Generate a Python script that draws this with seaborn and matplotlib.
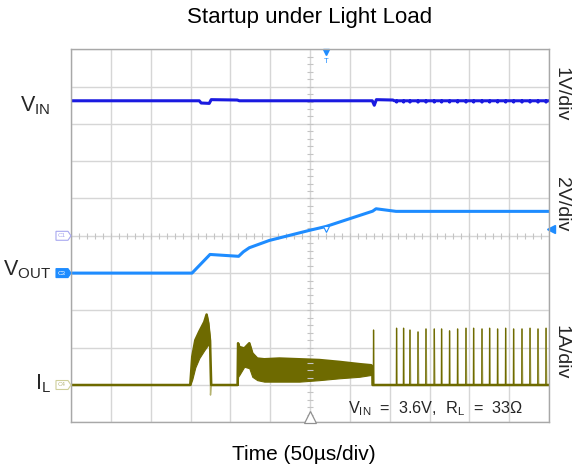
import numpy as np
import pandas as pd
import matplotlib
matplotlib.use("Agg")
import matplotlib.pyplot as plt
from matplotlib.patches import Polygon
import seaborn as sns

# ---------------- data (time in µs, 50 µs/div) ----------------
# V_IN trace (volts, 1 V/div, ground at centre line)
vin_t = [-300, -139.0, -136.6, -126.5, -124.0, -91.3, -88.7, 78.2, 80.7, 83.3, 104.0, 106.0, 300]
vin_v = [3.62, 3.62, 3.56, 3.55, 3.65, 3.64, 3.62, 3.62, 3.50, 3.65, 3.64, 3.62, 3.62]
vin_dip = 3.585

# V_OUT trace (volts, 2 V/div, ground one division below centre)
vout_t = [-300, -148.1, -125.5, -89.6, -83.7, -76.2, -51.1, -26.0, -0.9, 20.1, 49.3, 78.6, 82.9, 108.0, 300]
vout_v = [0.0, 0.0, 1.00, 0.90, 1.14, 1.36, 1.75, 2.02, 2.29, 2.50, 2.91, 3.32, 3.45, 3.31, 3.31]

# I_L trace (amps, 1 A/div, ground four divisions below centre)
burst1_t = [-150.3, -147.8, -144.0, -139.0, -132.7, -129.8, -127.7, -125.5]
burst1_hi = [0.0, 0.76, 1.20, 1.43, 1.69, 1.89, 1.66, 1.20]
burst1_lo = [0.0, 0.15, 0.47, 0.72, 0.93, 1.02, 1.08, 1.05]
burst2_t = [-90.9, -90.3, -88.7, -82.5, -76.2, -72.4, -66.2, -57.4, -38.5, -13.4, 11.7, 36.8, 61.9, 76.9, 78.2]
burst2_hi = [0.0, 1.12, 1.02, 0.98, 1.12, 0.85, 0.71, 0.69, 0.71, 0.69, 0.67, 0.62, 0.56, 0.53, 0.50]
burst2_lo = [0.0, 0.22, 0.27, 0.49, 0.45, 0.22, 0.13, 0.09, 0.09, 0.09, 0.13, 0.18, 0.22, 0.27, 0.27]
il_undershoot_t = -124.9
il_undershoot_a = -0.27
spike_t = [79.8, 108.7, 117.5, 125.5, 135.6, 145.6, 156.0, 165.2, 175.2, 185.3, 195.8,
           205.4, 215.9, 225.5, 235.5, 245.6, 255.6, 266.1, 276.2, 286.2, 296.3]
spike_a = [1.47, 1.52, 1.52, 1.47, 1.42, 1.50, 1.50, 1.50, 1.45, 1.50, 1.52,
           1.52, 1.50, 1.52, 1.50, 1.52, 1.50, 1.50, 1.52, 1.50, 1.52]

# channel scales (units/div) and ground offsets (div)
VIN_SCALE, VIN_OFF = 1.0, 0.0
VOUT_SCALE, VOUT_OFF = 2.0, -1.0
IL_SCALE, IL_OFF = 1.0, -4.0

C_VIN = "#1a1ae0"
C_VOUT = "#1e8cff"
C_IL = "#6e6a00"
C_IL_LIGHT = "#b5b370"

# ---------------- build series ----------------
vt, vv = list(vin_t[:-1]), list(vin_v[:-1])
for s in spike_t[1:]:
    vt += [s - 0.4, s, s + 0.4]
    vv += [vin_v[-1], vin_dip, vin_v[-1]]
vt.append(vin_t[-1]); vv.append(vin_v[-1])
df_vin = pd.DataFrame({"t": vt, "y": np.array(vv) / VIN_SCALE + VIN_OFF})
df_vout = pd.DataFrame({"t": vout_t, "y": np.array(vout_v) / VOUT_SCALE + VOUT_OFF})

# baseline + burst envelopes
it, ia = [-300.0], [0.0]
it += burst1_t; ia += burst1_hi
it += [il_undershoot_t + 0.9]; ia += [0.0]
it += burst2_t; ia += burst2_hi
it += [burst2_t[-1] + 0.3, 300.0]; ia += [0.0, 0.0]
df_il = pd.DataFrame({"t": it, "y": np.array(ia) / IL_SCALE + IL_OFF})

# rising edges of the spikes (dark) and falling edges (faint)
up_rows, down_rows = [], []
for k, (s, a) in enumerate(zip(spike_t, spike_a)):
    up_rows += [(k, s - 0.25, 0.0), (k, s, a)]
    down_rows += [(k, s, a), (k, s + 0.9, 0.0)]
down_rows += [(99, burst1_t[-1], burst1_hi[-1]), (99, il_undershoot_t, il_undershoot_a),
              (99, il_undershoot_t + 0.9, 0.0)]
df_up = pd.DataFrame(up_rows, columns=["k", "t", "a"])
df_up["y"] = df_up["a"] / IL_SCALE + IL_OFF
df_dn = pd.DataFrame(down_rows, columns=["k", "t", "a"])
df_dn["y"] = df_dn["a"] / IL_SCALE + IL_OFF

# ---------------- figure ----------------
sns.set_theme(style="white")
plt.rcParams["font.family"] = ["Liberation Sans", "DejaVu Sans"]
plt.rcParams["mathtext.fontset"] = "custom"
plt.rcParams["mathtext.rm"] = "Liberation Sans"
plt.rcParams["mathtext.it"] = "Liberation Sans:italic"

W, H = 574, 472
fig = plt.figure(figsize=(W / 100, H / 100), dpi=100)
fig.patch.set_facecolor("white")
ax = fig.add_axes([71 / W, 1 - 422.3 / H, 478 / W, 373 / H])
ax.set_facecolor("white")
ax.set_xlim(-300, 300)
ax.set_ylim(-5, 5)
ax.set_xticks(np.arange(-300, 301, 50))
ax.set_yticks(np.arange(-5, 6, 1))
ax.grid(True, color="#d6d6d6", lw=1.0)
ax.tick_params(length=0, labelbottom=False, labelleft=False)
for sp in ax.spines.values():
    sp.set_color("#a8a8a8")
    sp.set_linewidth(1.0)

# centre-line minor ticks
ax.plot(np.zeros(50), np.arange(-5, 5, 0.2), ls="none", marker="_", ms=4, mew=0.8, color="#c4c4c4")
ax.plot(np.arange(-300, 300, 10), np.zeros(60), ls="none", marker="|", ms=4, mew=0.8, color="#c4c4c4")

# traces
ax.fill_between(burst1_t, np.array(burst1_lo) / IL_SCALE + IL_OFF, np.array(burst1_hi) / IL_SCALE + IL_OFF,
                color=C_IL, lw=0.8)
ax.fill_between(burst2_t, np.array(burst2_lo) / IL_SCALE + IL_OFF, np.array(burst2_hi) / IL_SCALE + IL_OFF,
                color=C_IL, lw=0.8)
sns.lineplot(data=df_dn, x="t", y="y", units="k", ax=ax, color=C_IL_LIGHT, lw=1.0, sort=False, estimator=None)
sns.lineplot(data=df_up, x="t", y="y", units="k", ax=ax, color=C_IL, lw=1.0, sort=False, estimator=None)
sns.lineplot(data=df_il, x="t", y="y", ax=ax, color=C_IL, lw=1.8, sort=False, estimator=None)
sns.lineplot(data=df_vout, x="t", y="y", ax=ax, color=C_VOUT, lw=2.2, sort=False, estimator=None)
sns.lineplot(data=df_vin, x="t", y="y", ax=ax, color=C_VIN, lw=2.2, sort=False, estimator=None)
ax.set_xlabel("")
ax.set_ylabel("")

# scope markers
ax.plot(19.8, 0.18, marker="v", ms=4, mfc="white", mec=C_VOUT, mew=0.8)
ax.plot(19.8, 4.94, marker="v", ms=4.5, color=C_VOUT, clip_on=False)
ax.text(19.8, 4.67, "T", fontsize=5.5, color=C_VOUT, ha="center", va="center")
ax.plot(0, -4.86, marker="^", ms=8, mfc="white", mec="#909090", mew=0.9, clip_on=False, zorder=5)
ax.plot(302, 0.18, marker="<", ms=6, color=C_VOUT, clip_on=False)

ytr = ax.get_yaxis_transform()
def tag(ydiv, label, fc, ec, tc):
    h = 0.12
    pts = [(-0.0314, ydiv - h), (-0.0063, ydiv - h), (0.0, ydiv), (-0.0063, ydiv + h), (-0.0314, ydiv + h)]
    ax.add_patch(Polygon(pts, closed=True, transform=ytr, clip_on=False, fc=fc, ec=ec, lw=0.8, zorder=6))
    ax.text(-0.019, ydiv, label, transform=ytr, fontsize=4.5, color=tc, ha="center", va="center", zorder=7)

tag(VIN_OFF, "C1", "white", "#a8a8f0", "#a8a8f0")
tag(VOUT_OFF, "C3", C_VOUT, C_VOUT, "white")
tag(IL_OFF, "C4", "white", "#cfcf9a", "#b8b880")

# texts
fig.text(310 / W, 1 - 17 / H, "Startup under Light Load", ha="center", va="center", fontsize=16, color="black")
fig.text(304 / W, 1 - 455 / H, "Time (50µs/div)", ha="center", va="center", fontsize=15, color="black")
for lbl, yc in [("1V/div", 94.2), ("2V/div", 204), ("1A/div", 351.7)]:
    fig.text(561.5 / W, 1 - yc / H, lbl, rotation=-90, ha="center", va="center", fontsize=14)

fig.text(50.7 / W, 1 - 111 / H, r"V$_{\mathrm{IN}}$", ha="right", va="baseline", fontsize=15.5)
fig.text(50.7 / W, 1 - 275 / H, r"V$_{\mathrm{OUT}}$", ha="right", va="baseline", fontsize=15.5)
fig.text(50.7 / W, 1 - 389 / H, r"I$_{\mathrm{L}}$", ha="right", va="baseline", fontsize=15.5)

fig.text(348.3 / W, 1 - 413.3 / H, r"V$_{\mathrm{IN}}$  =  3.6V,  R$_{\mathrm{L}}$  =  33Ω",
         ha="left", va="baseline", fontsize=11.7)

fig.savefig("out.png", dpi=100)
